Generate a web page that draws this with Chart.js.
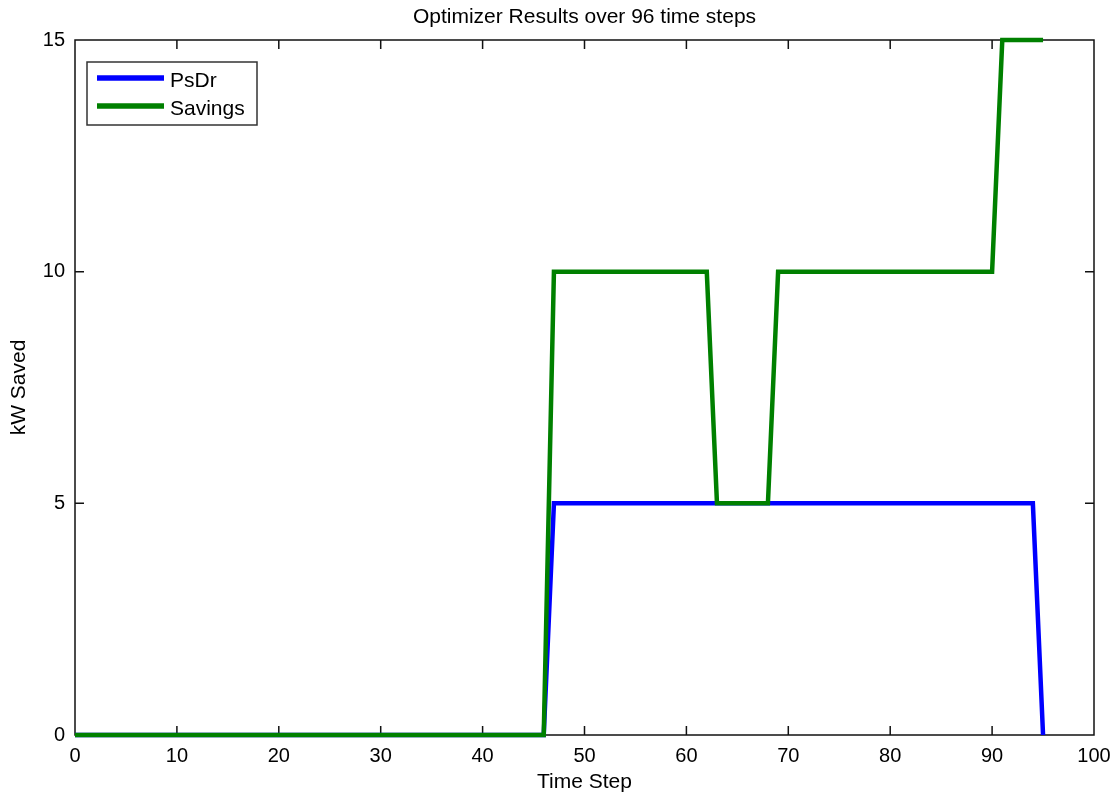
<!DOCTYPE html>
<html>
<head>
<meta charset="utf-8">
<script src="https://cdn.jsdelivr.net/npm/chart.js@4"></script>
<style>
  html, body { margin: 0; padding: 0; background: #fff; }
  #wrap { width: 1116px; height: 795px; }
</style>
</head>
<body>
<div id="wrap"><canvas id="c" width="1116" height="795"></canvas></div>
<script>
const chartTitle = "Optimizer Results over 96 time steps";
const xTitle = "Time Step";
const yTitle = "kW Saved";
const seriesNames = ["PsDr", "Savings"];

const timeSteps = [
  0,1,2,3,4,5,6,7,8,9,10,11,12,13,14,15,16,17,18,19,
  20,21,22,23,24,25,26,27,28,29,30,31,32,33,34,35,36,37,38,39,
  40,41,42,43,44,45,46,47,48,49,50,51,52,53,54,55,56,57,58,59,
  60,61,62,63,64,65,66,67,68,69,70,71,72,73,74,75,76,77,78,79,
  80,81,82,83,84,85,86,87,88,89,90,91,92,93,94,95
];

const psdr = [
  0,0,0,0,0,0,0,0,0,0,0,0,0,0,0,0,0,0,0,0,
  0,0,0,0,0,0,0,0,0,0,0,0,0,0,0,0,0,0,0,0,
  0,0,0,0,0,0,0,5,5,5,5,5,5,5,5,5,5,5,5,5,
  5,5,5,5,5,5,5,5,5,5,5,5,5,5,5,5,5,5,5,5,
  5,5,5,5,5,5,5,5,5,5,5,5,5,5,5,0
];

const savings = [
  0,0,0,0,0,0,0,0,0,0,0,0,0,0,0,0,0,0,0,0,
  0,0,0,0,0,0,0,0,0,0,0,0,0,0,0,0,0,0,0,0,
  0,0,0,0,0,0,0,10,10,10,10,10,10,10,10,10,10,10,10,10,
  10,10,10,5,5,5,5,5,5,10,10,10,10,10,10,10,10,10,10,10,
  10,10,10,10,10,10,10,10,10,10,10,15,15,15,15,15
];

const xTicks = [0,10,20,30,40,50,60,70,80,90,100];
const yTicks = [0,5,10,15];

const FONT = "'Liberation Sans', Arial, Helvetica, sans-serif";

const toPoints = (vals) => vals.map((v, i) => ({ x: timeSteps[i], y: v }));

const axesTitle = {
  id: 'axesTitle',
  afterDraw(chart) {
    const { ctx, chartArea: { left, right } } = chart;
    ctx.save();
    ctx.fillStyle = '#000';
    ctx.font = '21px ' + FONT;
    ctx.textAlign = 'center';
    ctx.textBaseline = 'middle';
    ctx.fillText(chartTitle, (left + right) / 2, 17);
    ctx.restore();
  }
};

const boxAndTicks = {
  id: 'boxAndTicks',
  beforeDatasetsDraw(chart) {
    const { ctx, chartArea: { left, right, top, bottom }, scales: { x, y } } = chart;
    ctx.save();
    ctx.strokeStyle = '#111';
    ctx.lineWidth = 1.5;
    ctx.strokeRect(left, top, right - left, bottom - top);
    const tl = 9;
    ctx.beginPath();
    x.ticks.forEach(t => {
      const px = x.getPixelForValue(t.value);
      if (t.value === x.min || t.value === x.max) return;
      ctx.moveTo(px, bottom); ctx.lineTo(px, bottom - tl);
      ctx.moveTo(px, top); ctx.lineTo(px, top + tl);
    });
    y.ticks.forEach(t => {
      const py = y.getPixelForValue(t.value);
      if (t.value === y.min || t.value === y.max) return;
      ctx.moveTo(left, py); ctx.lineTo(left + tl, py);
      ctx.moveTo(right, py); ctx.lineTo(right - tl, py);
    });
    ctx.stroke();
    ctx.restore();
  }
};

const boxLegend = {
  id: 'boxLegend',
  afterDraw(chart) {
    const { ctx, chartArea: { left, top } } = chart;
    const bx = left + 12, by = top + 22, bw = 170, bh = 63;
    ctx.save();
    ctx.fillStyle = '#fff';
    ctx.fillRect(bx, by, bw, bh);
    ctx.strokeStyle = '#333';
    ctx.lineWidth = 1.5;
    ctx.strokeRect(bx, by, bw, bh);
    const ds = chart.data.datasets;
    const rows = [by + 16, by + 44];
    ds.forEach((d, i) => {
      const yy = rows[i];
      ctx.strokeStyle = d.borderColor;
      ctx.lineWidth = 5.5;
      ctx.beginPath();
      ctx.moveTo(bx + 10, yy);
      ctx.lineTo(bx + 77, yy);
      ctx.stroke();
      ctx.fillStyle = '#000';
      ctx.font = '21px ' + FONT;
      ctx.textBaseline = 'middle';
      ctx.textAlign = 'left';
      ctx.fillText(d.label, bx + 83, yy + 3);
    });
    ctx.restore();
  }
};

new Chart(document.getElementById('c'), {
  type: 'line',
  data: {
    datasets: [
      {
        label: seriesNames[0],
        data: toPoints(psdr),
        borderColor: '#0000ff',
        borderWidth: 4.5,
        pointRadius: 0,
        tension: 0,
        clip: false,
        order: 1
      },
      {
        label: seriesNames[1],
        data: toPoints(savings),
        borderColor: '#008000',
        borderWidth: 4.5,
        pointRadius: 0,
        tension: 0,
        clip: false,
        order: 0
      }
    ]
  },
  options: {
    responsive: false,
    animation: false,
    devicePixelRatio: 1,
    layout: { padding: { top: 40, right: 22, bottom: 0, left: 0 } },
    plugins: {
      legend: { display: false },
      tooltip: { enabled: false },
      title: { display: false }
    },
    scales: {
      x: {
        type: 'linear',
        min: 0,
        max: 100,
        afterBuildTicks: (s) => { s.ticks = xTicks.map(v => ({ value: v })); },
        afterFit: (s) => { s.height = 60; s.paddingLeft = 0; s.paddingRight = 0; },
        grid: { display: false, drawTicks: false },
        border: { display: false },
        ticks: {
          color: '#000',
          padding: 9,
          maxRotation: 0,
          font: { family: FONT, size: 20 }
        },
        title: {
          display: true,
          text: xTitle,
          color: '#000',
          font: { family: FONT, size: 21 },
          padding: { top: 0, bottom: 0 }
        }
      },
      y: {
        type: 'linear',
        min: 0,
        max: 15,
        afterBuildTicks: (s) => { s.ticks = yTicks.map(v => ({ value: v })); },
        afterFit: (s) => { s.width = 75; s.paddingTop = 0; s.paddingBottom = 0; },
        grid: { display: false, drawTicks: false },
        border: { display: false },
        ticks: {
          color: '#000',
          padding: 10,
          font: { family: FONT, size: 20 }
        },
        title: {
          display: true,
          text: yTitle,
          color: '#000',
          font: { family: FONT, size: 21 },
          padding: { top: 7, bottom: 0 }
        }
      }
    }
  },
  plugins: [boxAndTicks, boxLegend, axesTitle]
});
</script>
</body>
</html>
